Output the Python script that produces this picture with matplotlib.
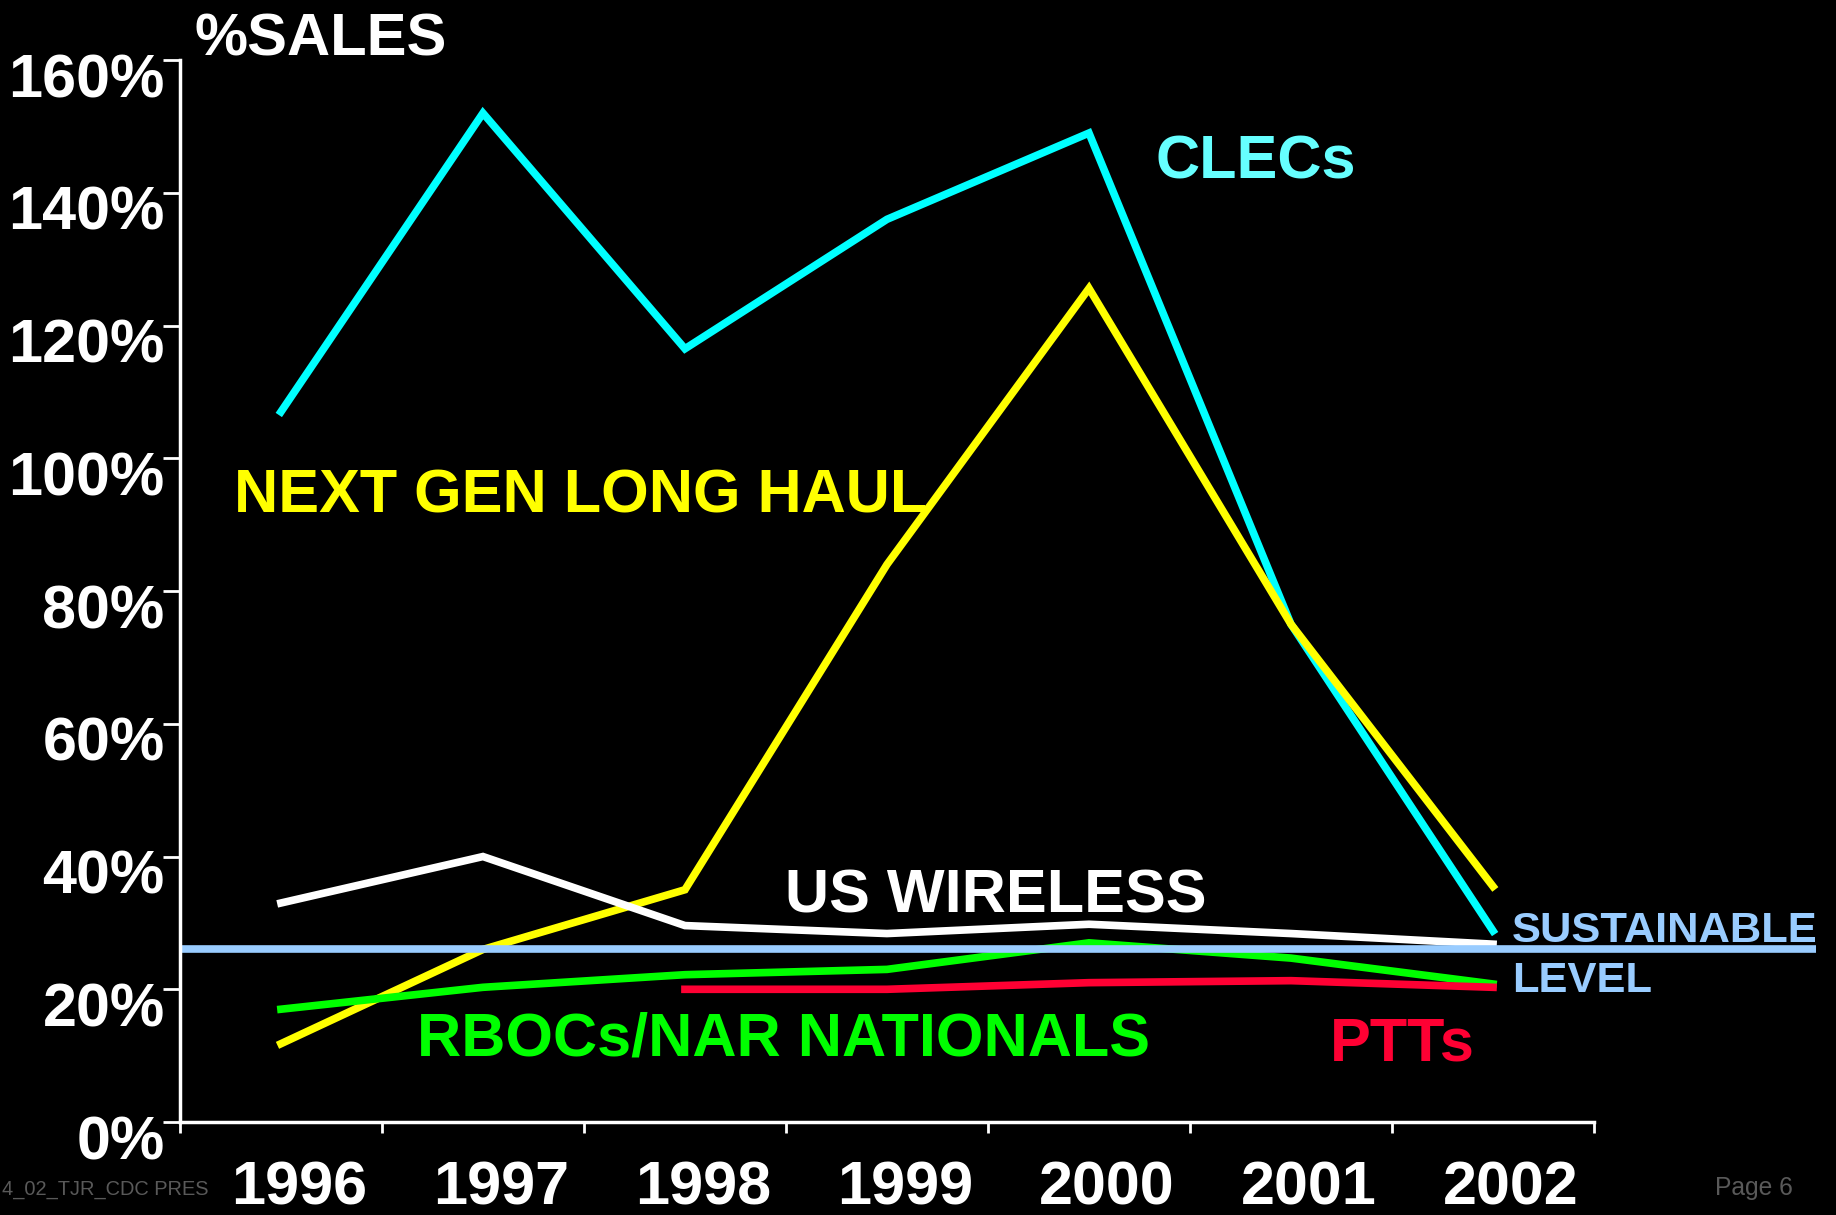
import matplotlib.pyplot as plt
from matplotlib.transforms import ScaledTranslation

plt.rcParams['font.family'] = ['Liberation Sans', 'DejaVu Sans']

# Spending as % of sales, by carrier group
years = ['1996', '1997', '1998', '1999', '2000', '2001', '2002']
clecs = [107, 152, 116.5, 136, 149, 75, 28.8]
long_haul = [11.8, 26, 35, 84, 125.6, 75, 35.5]
us_wireless = [33, 40, 29.6, 28.4, 29.8, 28.4, 26.8]
rbocs = [17, 20.3, 22.2, 23, 27, 24.7, 20.8]
ptt_years = ['1998', '1999', '2000', '2001', '2002']
ptts = [20, 20, 21, 21.3, 20.3]
sustainable = 26

fig = plt.figure(figsize=(18.36, 12.15), dpi=100, facecolor='black')
ax = fig.add_axes([0.098, 0.0765, 0.7702, 0.8741], facecolor='black')

x = list(range(len(years)))
x_ptt = [years.index(y) for y in ptt_years]

lw = 5.5
ax.plot(x, clecs, color='#00FFFF', lw=lw, solid_joinstyle='miter')
ax.plot(x, long_haul, color='#FFFF00', lw=lw, solid_joinstyle='miter')
ax.plot(x, us_wireless, color='white', lw=lw, solid_joinstyle='miter')
ax.plot(x, rbocs, color='#00FF00', lw=lw, solid_joinstyle='miter')
ax.plot(x_ptt, ptts, color='#FF0033', lw=lw, solid_joinstyle='miter')
ax.plot([-0.5, 7.6], [sustainable, sustainable], color='#99CCFF', lw=lw,
        clip_on=False, solid_capstyle='butt')

ax.set_xlim(-0.5, 6.5)
ax.set_ylim(0, 160)

# ticks sit on the category boundaries, labels at the centres
ax.set_xticks([i - 0.5 for i in range(len(years) + 1)])
ax.set_xticklabels([])
ax.set_xticks(x, minor=True)
ax.set_xticklabels(years, minor=True)
ax.tick_params(axis='x', which='major', length=8, width=2, color='white', direction='out')
ax.tick_params(axis='x', which='minor', length=0, pad=28, labelsize=44, labelcolor='white')
shift_x = ScaledTranslation(0.18, 0, fig.dpi_scale_trans)
for t in ax.get_xticklabels(minor=True):
    t.set_fontweight('bold')
    t.set_transform(t.get_transform() + shift_x)

ax.set_yticks(range(0, 161, 20))
ax.set_yticklabels([f'{v}%' for v in range(0, 161, 20)])
ax.tick_params(axis='y', length=12, width=2, color='white', pad=-1,
               labelsize=44, labelcolor='white')
shift_y = ScaledTranslation(0, -0.15, fig.dpi_scale_trans)
for t in ax.get_yticklabels():
    t.set_fontweight('bold')
    t.set_transform(t.get_transform() + shift_y)

for side in ['top', 'right']:
    ax.spines[side].set_visible(False)
for side in ['left', 'bottom']:
    ax.spines[side].set_color('white')
    ax.spines[side].set_linewidth(2.5)

# series labels
kw = dict(fontsize=44, fontweight='bold', va='baseline', ha='left')
ax.text(4.327, 142.2, 'CLECs', color='#66FFFF', **kw)
ax.text(-0.233, 91.9, 'NEXT GEN LONG HAUL', color='#FFFF00', **kw)
ax.text(2.495, 31.5, 'US WIRELESS', color='white', **kw)
ax.text(0.673, 10.1, 'RBOCs/NAR NATIONALS', color='#00FF00', **kw)
ax.text(5.193, 9.3, 'PTTs', color='#FF0033', **kw)
ax.text(6.094, 27.1, 'SUSTAINABLE', color='#99CCFF', fontsize=31.3,
        fontweight='bold', va='baseline', ha='left', clip_on=False)
ax.text(6.094, 19.6, 'LEVEL', color='#99CCFF', fontsize=31.3,
        fontweight='bold', va='baseline', ha='left', clip_on=False)

fig.text(195 / 1836, 1 - 55 / 1215, '%SALES', color='white', fontsize=43,
         fontweight='bold', va='baseline', ha='left')
fig.text(209 / 1836, 1 - 1195 / 1215, '4_02_TJR_CDC PRES', color='#595959',
         fontsize=14.4, va='baseline', ha='right')
fig.text(1715 / 1836, 1 - 1195 / 1215, 'Page 6', color='#595959',
         fontsize=17.7, va='baseline', ha='left')

fig.savefig('out.png', dpi=100, facecolor='black')
